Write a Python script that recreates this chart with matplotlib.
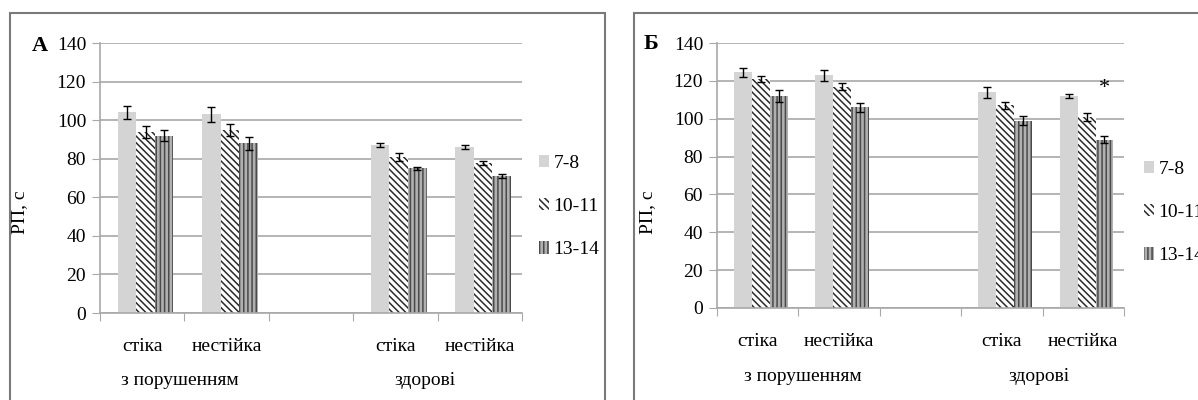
import matplotlib.pyplot as plt
from matplotlib.patches import Rectangle, Patch

plt.rcParams['font.family'] = ['Liberation Serif', 'DejaVu Serif']
plt.rcParams['hatch.linewidth'] = 1.1

categories = ["стіка", "нестійка", "", "стіка", "нестійка"]
groups = ["з порушенням", "здорові"]
ages = ["7-8", "10-11", "13-14"]

# panel A: means and errors per age (None = empty gap category)
a_78 = [104, 103, None, 87, 86]
a_1011 = [94, 95, None, 81, 78]
a_1314 = [92, 88, None, 75, 71]
a_78_err = [3.5, 4, None, 1, 1]
a_1011_err = [3, 3, None, 2, 1]
a_1314_err = [3, 3.5, None, 0.7, 1]

# panel Б
b_78 = [124.5, 123, None, 114, 112]
b_1011 = [121, 117, None, 107, 101]
b_1314 = [112, 106, None, 99, 89]
b_78_err = [2.5, 3, None, 3, 1]
b_1011_err = [1.5, 2, None, 2, 2]
b_1314_err = [3, 2.5, None, 2.5, 2]

styles = [
    dict(facecolor="#d4d4d4", edgecolor="#d4d4d4", hatch=None),
    dict(facecolor="white", edgecolor="#2a2a2a", hatch="\\\\\\\\\\"),
    dict(facecolor="#b0b0b0", edgecolor="#4a4a4a", hatch="||||"),
]
FS = 14

fig = plt.figure(figsize=(11.98, 4.0), dpi=100)

# panel frames
fig.patches.append(Rectangle((10 / 1198, -0.1), 595 / 1198, 1.1 - 13 / 400,
                             transform=fig.transFigure, fill=False,
                             edgecolor="#7a7a7a", lw=1.5))
fig.patches.append(Rectangle((634 / 1198, -0.1), 600 / 1198, 1.1 - 13 / 400,
                             transform=fig.transFigure, fill=False,
                             edgecolor="#7a7a7a", lw=1.5))


def draw_panel(rect, series, errors, letter, letter_xy, ylab_x, leg_anchor,
               group_x, group_y, star=None):
    ax = fig.add_axes(rect)
    w = 0.22
    for i, (vals, errs, st) in enumerate(zip(series, errors, styles)):
        xs = [k + (i - 1) * w + 0.04 for k, v in enumerate(vals) if v is not None]
        ys = [v for v in vals if v is not None]
        es = [e for e in errs if e is not None]
        ax.bar(xs, ys, width=w, facecolor=st["facecolor"],
               edgecolor=st["edgecolor"], hatch=st["hatch"], linewidth=0,
               zorder=2)
        ax.errorbar(xs, ys, yerr=es, fmt="none", ecolor="black",
                    elinewidth=1, capsize=3, capthick=1, zorder=3)
    ax.set_xlim(-0.5, 4.5)
    ax.set_ylim(0, 140)
    ax.set_yticks(range(0, 141, 20))
    ax.yaxis.grid(True, color="#a8a8a8", lw=1.2, zorder=0)
    ax.set_axisbelow(True)
    ax.set_xticks([k - 0.5 for k in range(6)])
    ax.set_xticklabels([])
    ax.set_xticks(range(5), minor=True)
    ax.set_xticklabels(categories, minor=True, fontsize=FS)
    ax.tick_params(axis="x", which="minor", length=0, pad=18)
    ax.tick_params(axis="x", which="major", length=6, color="#a8a8a8")
    ax.tick_params(axis="y", length=6, color="#a8a8a8", labelsize=FS, pad=4)
    for s in ["top", "right"]:
        ax.spines[s].set_visible(False)
    for s in ["left", "bottom"]:
        ax.spines[s].set_color("#a8a8a8")
        ax.spines[s].set_linewidth(1.2)
    for gx, g in zip(group_x, groups):
        ax.text(gx, group_y, g, transform=ax.get_xaxis_transform(),
                ha="center", va="center", fontsize=FS)
    fig.text(letter_xy[0], letter_xy[1], letter, fontsize=16,
             fontweight="bold", ha="center", va="center")
    fig.text(ylab_x, 0.47, "РП, с", rotation=90, fontsize=FS,
             ha="center", va="center")
    if star is not None:
        ax.text(star[0], star[1], "*", ha="center", va="center", fontsize=16)
    handles = [Patch(facecolor=st["facecolor"], edgecolor=st["edgecolor"],
                     hatch=st["hatch"], linewidth=0) for st in styles]
    fig.legend(handles, ages, loc="upper left", bbox_to_anchor=leg_anchor,
               frameon=False, fontsize=FS, handlelength=0.55,
               handleheight=0.6, handletextpad=0.2, labelspacing=1.35,
               borderaxespad=0)
    return ax


draw_panel([100 / 1198, 1 - 313 / 400, 422 / 1198, 270 / 400],
           [a_78, a_1011, a_1314], [a_78_err, a_1011_err, a_1314_err],
           "А", (40 / 1198, 1 - 46 / 400), 20 / 1198,
           (531 / 1198, 1 - 147 / 400), [0.45, 3.35], -0.25)

draw_panel([717 / 1198, 1 - 308 / 400, 407 / 1198, 265 / 400],
           [b_78, b_1011, b_1314], [b_78_err, b_1011_err, b_1314_err],
           "Б", (651 / 1198, 1 - 44 / 400), 648 / 1198,
           (1136 / 1198, 1 - 153 / 400), [0.55, 3.45], -0.26,
           star=(4 + 0.26, 116))

fig.savefig("out.png", dpi=100)
